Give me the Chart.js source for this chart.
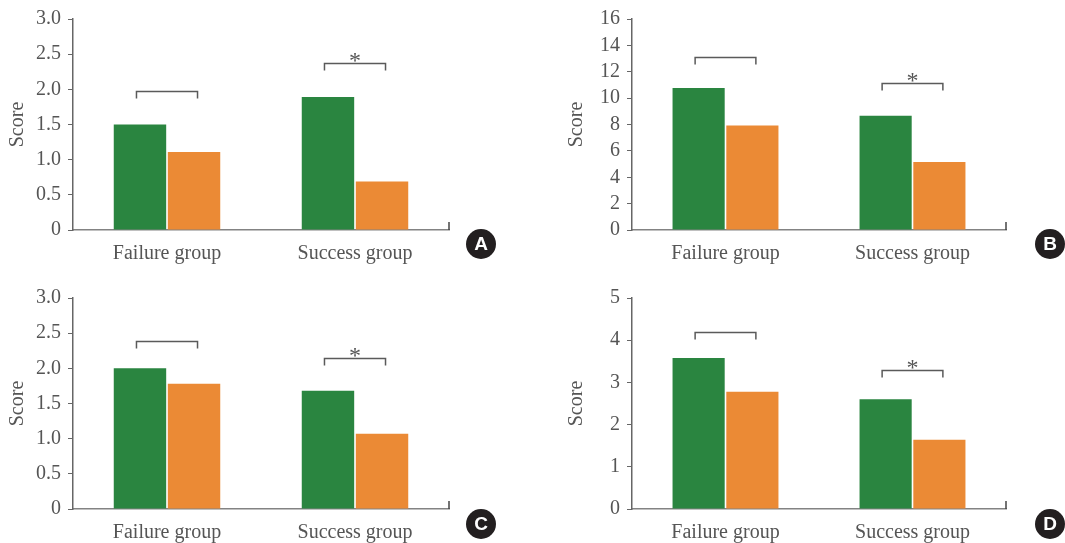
<!DOCTYPE html>
<html>
<head>
<meta charset="utf-8">
<script src="https://cdn.jsdelivr.net/npm/chart.js@4/dist/chart.umd.min.js"></script>
<style>
  body { margin: 0; background: #fff; }
  #wrap { position: relative; width: 1065px; height: 543px; overflow: hidden; }
  .panel { position: absolute; width: 520px; height: 270px; }
  .badge {
    position: absolute; width: 30px; height: 30px; border-radius: 50%;
    background: #231f20; color: #fff; font: bold 19px "Liberation Sans", Arial, sans-serif;
    text-align: center; line-height: 30px;
  }
</style>
</head>
<body>
<div id="wrap">
  <div class="panel" style="left:0;top:0"><canvas id="chartA"></canvas></div>
  <div class="panel" style="left:559px;top:0"><canvas id="chartB"></canvas></div>
  <div class="panel" style="left:0;top:279px"><canvas id="chartC"></canvas></div>
  <div class="panel" style="left:559px;top:279px"><canvas id="chartD"></canvas></div>
  <div class="badge" style="left:466px;top:229px">A</div>
  <div class="badge" style="left:1035px;top:229px">B</div>
  <div class="badge" style="left:466px;top:509px">C</div>
  <div class="badge" style="left:1035px;top:509px">D</div>
</div>
<script>
// Data
const categories = ['Failure group', 'Success group'];
const seriesNames = ['Group 1', 'Group 2'];

const greenA = [1.50, 1.89];
const orangeA = [1.11, 0.69];
const greenB = [10.77, 8.67];
const orangeB = [7.93, 5.16];
const greenC = [2.00, 1.68];
const orangeC = [1.78, 1.07];
const greenD = [3.58, 2.60];
const orangeD = [2.78, 1.64];

// comparison brackets (level in score units), * marks significance
const bracketA = [1.97, 2.37];
const bracketB = [13.1, 11.15];
const bracketC = [2.39, 2.14];
const bracketD = [4.2, 3.3];
const significant = [false, true];

const yMax = { A: 3, B: 16, C: 3, D: 5 };
const yStep = { A: 0.5, B: 2, C: 0.5, D: 1 };

const GREEN = '#2a8540';
const ORANGE = '#eb8a35';
const TEXT = '#555555';
const FONT = '"Liberation Serif", "Times New Roman", serif';

// brackets, stars and the little end tick on the x axis
const bracketPlugin = {
    id: 'brackets',
    afterDatasetsDraw(chart, args, opts) {
        const ctx = chart.ctx;
        const y = chart.scales.y;
        const g = chart.getDatasetMeta(0).data;
        const o = chart.getDatasetMeta(1).data;
        ctx.save();
        ctx.strokeStyle = '#5a5a5a';
        ctx.lineWidth = 1.5;
        opts.levels.forEach((lvl, i) => {
            const x1 = g[i].x - 3.5;
            const x2 = o[i].x + 3.5;
            const yy = Math.round(y.getPixelForValue(lvl)) + 0.5;
            ctx.beginPath();
            ctx.moveTo(x1, yy + 7);
            ctx.lineTo(x1, yy);
            ctx.lineTo(x2, yy);
            ctx.lineTo(x2, yy + 7);
            ctx.stroke();
            if (significant[i]) {
                ctx.fillStyle = TEXT;
                ctx.font = '24px ' + FONT;
                ctx.textAlign = 'center';
                ctx.textBaseline = 'alphabetic';
                ctx.fillText('*', (x1 + x2) / 2, yy + 4);
            }
        });
        // right end tick
        const a = chart.chartArea;
        ctx.strokeStyle = '#444';
        ctx.beginPath();
        ctx.moveTo(a.right, a.bottom);
        ctx.lineTo(a.right, a.bottom - 8);
        ctx.stroke();
        ctx.restore();
    }
};

function makeChart(id, key, green, orange, levels, padRight) {
    const ctx = document.getElementById(id).getContext('2d');
    return new Chart(ctx, {
        type: 'bar',
        data: {
            labels: categories,
            datasets: [
                { label: seriesNames[0], data: green, backgroundColor: GREEN },
                { label: seriesNames[1], data: orange, backgroundColor: ORANGE }
            ]
        },
        options: {
            responsive: true,
            maintainAspectRatio: false,
            animation: false,
            datasets: { bar: { categoryPercentage: 0.575, barPercentage: 0.97 } },
            layout: { padding: { top: 16, right: padRight, left: 0, bottom: 0 } },
            plugins: {
                legend: { display: false },
                tooltip: { enabled: false },
                brackets: { levels: levels }
            },
            scales: {
                x: {
                    z: 1,
                    grid: { display: false, drawTicks: false },
                    border: { display: true, color: 'rgba(90,90,90,0.75)', width: 1.5 },
                    ticks: { color: TEXT, font: { family: FONT, size: 20 }, padding: 12 },
                    afterFit: (s) => { s.height = 40; }
                },
                y: {
                    min: 0,
                    max: yMax[key],
                    grid: { drawOnChartArea: false, drawTicks: true, tickLength: 5, color: '#666' },
                    border: { display: true, color: '#666', width: 1.5 },
                    ticks: {
                        stepSize: yStep[key],
                        autoSkip: false,
                        padding: 7,
                        color: TEXT,
                        font: { family: FONT, size: 20 },
                        callback: (v) => v === 0 ? '0' : (yStep[key] < 1 ? v.toFixed(1) : String(v))
                    },
                    title: {
                        display: true,
                        text: 'Score',
                        color: TEXT,
                        font: { family: FONT, size: 20 },
                        padding: { top: 6, bottom: 0 }
                    },
                    afterFit: (s) => { s.width = 73; }
                }
            }
        },
        plugins: [bracketPlugin]
    });
}

makeChart('chartA', 'A', greenA, orangeA, bracketA, 71);
makeChart('chartB', 'B', greenB, orangeB, bracketB, 73);
makeChart('chartC', 'C', greenC, orangeC, bracketC, 71);
makeChart('chartD', 'D', greenD, orangeD, bracketD, 73);
</script>
</body>
</html>
